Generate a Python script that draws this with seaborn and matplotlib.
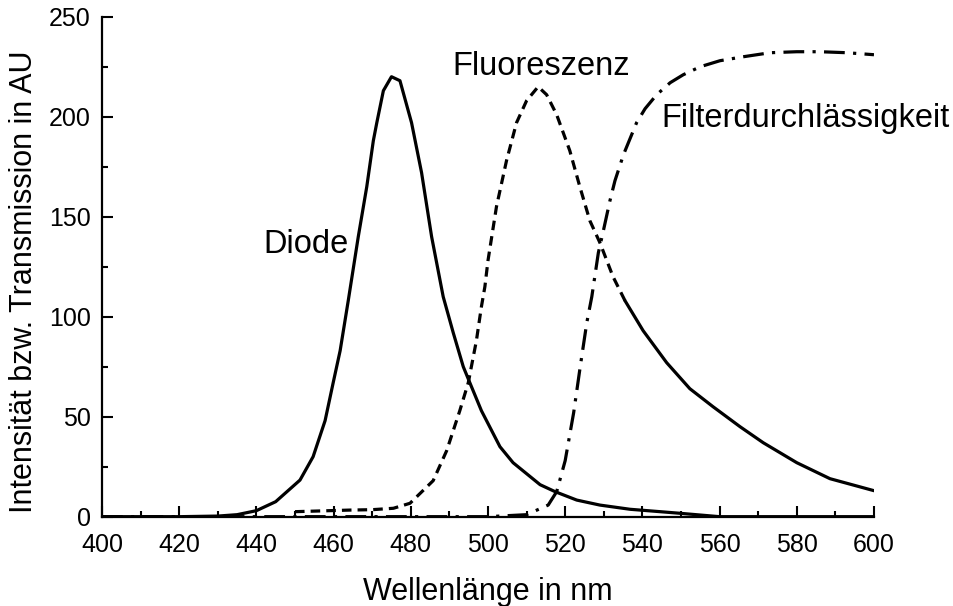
import numpy as np
import pandas as pd
import seaborn as sns
import matplotlib.pyplot as plt
from matplotlib.ticker import MultipleLocator

# Werte
diode_x = [400, 410, 420, 430, 435, 440, 445, 451.3, 454.7, 457.8, 459.9, 461.7, 463.8, 466.4,
           468.6, 470.3, 471.2, 472.9, 475, 477.2, 480.2, 482.8, 485.4, 488.4, 491, 493.6,
           495.3, 498.3, 503.1, 506.5, 513.5, 517.4, 523, 529, 536.8, 544.6, 549.7, 560,
           580, 600]
diode_y = [0, 0, 0, 0.3, 1, 3, 7.5, 18.3, 30, 48, 67, 83, 108, 140,
           165, 188, 197, 213, 220, 218, 197, 172, 140, 110, 92, 75,
           67, 53, 35, 27, 16, 12.5, 8.3, 5.8, 3.7, 2.5, 1.7, 0,
           0, 0]

fluo_x = [450, 464.2, 470, 475.5, 479.8, 485.8, 489.3, 492.7, 494.9, 497, 498.3, 499.2, 500,
          502.2, 504.8, 507.4, 510, 513, 515.2, 517.8, 521.2, 523.8, 526.4, 529, 532.4, 535.5,
          540.2, 546.3, 552.3, 558.3, 565.3, 571.3, 580, 588.6, 600]
fluo_y = [2.5, 3.3, 3.5, 4.2, 6.7, 18, 33, 53, 67, 88, 105, 115, 128,
          155, 178, 197, 208, 215, 211, 201, 183, 165, 148, 137, 120, 108,
          93, 77, 64, 55, 45, 37, 27, 19, 13]

filter_x = [400, 430, 460, 480, 500, 510, 515.6, 517.8, 520, 522.2, 523.9, 525.6, 526.9,
            528.6, 529.9, 531.6, 532.9, 535.1, 536.8, 538.5, 540.7, 543.7, 547.2, 550.6,
            555, 560.1, 566.2, 573.1, 580, 586, 593, 600]
filter_y = [0, 0, 0, 0, 0, 1, 5.8, 12.5, 28, 52, 75, 97, 110,
            132, 143, 158, 168, 181, 189, 197, 204, 211, 217, 221,
            225, 228, 230, 232, 232.5, 232.5, 232, 231]

labels = ["Diode", "Fluoreszenz", "Filterdurchlässigkeit"]

sns.set_style("ticks")
plt.rcParams['font.family'] = ['Liberation Sans', 'DejaVu Sans']
plt.rcParams['text.color'] = 'black'
plt.rcParams['axes.labelcolor'] = 'black'

fig = plt.figure(figsize=(9.54, 6.06), dpi=100)
ax = fig.add_axes([0.1069, 0.1474, 0.8092, 0.825])

lw = 2.3
sns.lineplot(x=diode_x, y=diode_y, ax=ax, color='black', lw=lw)
fx = np.array(fluo_x)
fy = np.array(fluo_y)
sns.lineplot(x=fx[fx <= 535.5], y=fy[fx <= 535.5], ax=ax, color='black', lw=lw,
             linestyle=(0, (3, 1.9)))
sns.lineplot(x=fx[fx >= 535.5], y=fy[fx >= 535.5], ax=ax, color='black', lw=lw)
sns.lineplot(x=filter_x, y=filter_y, ax=ax, color='black', lw=lw,
             linestyle=(0, (6.5, 2.6, 1, 2.6)))

ax.text(441.7, 136, labels[0], fontsize=23.5, va='center', ha='left')
ax.text(490.9, 225, labels[1], fontsize=23.5, va='center', ha='left')
ax.text(545, 199, labels[2], fontsize=23.5, va='center', ha='left')

ax.set_xlim(400, 600)
ax.set_ylim(0, 250)
ax.xaxis.set_major_locator(MultipleLocator(20))
ax.xaxis.set_minor_locator(MultipleLocator(10))
ax.yaxis.set_major_locator(MultipleLocator(50))
ax.yaxis.set_minor_locator(MultipleLocator(25))
ax.tick_params(which='both', direction='in', width=1.5, colors='black', labelsize=18)
ax.tick_params(axis='x', which='both', pad=12)
ax.tick_params(axis='y', which='both', pad=8)
ax.tick_params(which='major', length=8)
ax.tick_params(which='minor', length=4.5)

sns.despine(ax=ax)
for s in ['left', 'bottom']:
    ax.spines[s].set_linewidth(1.6)
    ax.spines[s].set_color('black')

ax.set_xlabel("Wellenlänge in nm", fontsize=22)
ax.set_ylabel("Intensität bzw. Transmission in AU", fontsize=22)
ax.xaxis.set_label_coords(0.5, -0.121)
ax.yaxis.set_label_coords(-0.082, 0.469)

fig.savefig("out.png", dpi=100)
